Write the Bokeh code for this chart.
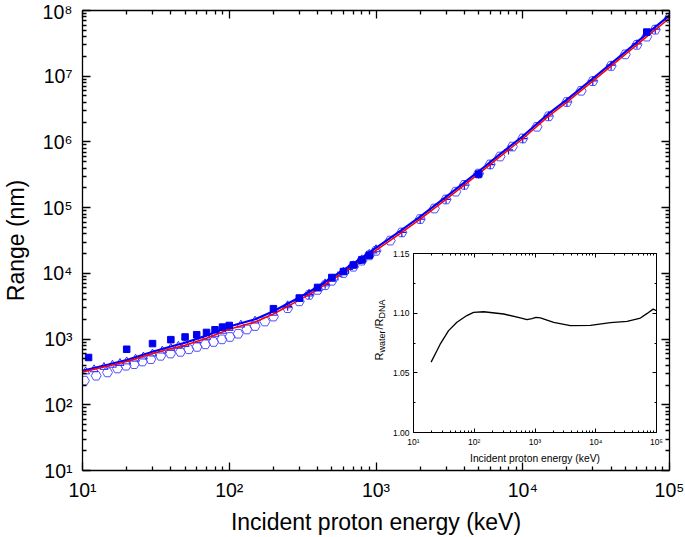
from bokeh.plotting import figure
from bokeh.models import Range1d, LogAxis, LinearAxis, FixedTicker
from bokeh.embed import file_html
from bokeh.resources import INLINE
from bokeh.core.properties import value
import math

# ---------------- data ----------------
# calculated ranges (nm) vs incident proton energy (keV)
E_line = [10, 15, 20, 30, 40, 50, 70, 100, 150, 200, 300, 400, 500, 700, 1000, 1500,
          2000, 3000, 5000, 7000, 10000, 15000, 20000, 30000, 50000, 70000, 100000]
R_water = [330, 410, 480, 640, 770, 880, 1130, 1550, 2000, 2650, 4300, 6200, 8700, 14000,
           24500, 46000, 73000, 146000, 355000, 650000, 1.22e6, 2.7e6, 4.4e6, 9.2e6,
           2.35e7, 4.4e7, 8.4e7]
R_dna = [315, 388, 455, 605, 715, 805, 1030, 1410, 1818, 2410, 3915, 5650, 7940, 12790,
         22350, 42100, 66900, 133900, 325700, 596000, 1.119e6, 2.475e6, 4.03e6, 8.42e6,
         2.15e7, 4.0e7, 7.63e7]

# experimental / reference points
E_sq = [11, 20, 30, 40, 50, 60, 70, 80, 90, 100, 200, 300, 400, 500, 600, 700, 800, 900, 5000, 70000]
R_sq = [524, 700, 853, 980, 1076, 1165, 1262, 1386, 1521, 1610, 2900, 4210, 6110, 8650,
        10650, 13400, 16000, 18900, 324000, 4.69e7]

E_pent = [10.3, 12.4, 14.8, 17.3, 19.8, 22.5, 25.6, 29.2, 34.1, 39.8, 46.5, 53, 60.3, 68.7,
          78.2, 89.1, 101, 115, 132, 150, 175, 200, 250, 300, 350, 400, 450, 500, 600, 700,
          800, 900, 1000, 1250, 1500, 2000, 2500, 3000, 3500, 4000, 5000, 6000, 7000, 8500,
          10000, 12500, 15000, 20000, 25000, 30000, 40000, 50000, 60000, 70000, 80000, 100000]
R_pent = [233, 277, 311, 357, 393, 415, 456, 494, 556, 603, 638, 700, 760, 832, 904, 990,
          1077, 1206, 1400, 1577, 1850, 2200, 2950, 3750, 4700, 5600, 6600, 7700, 10100,
          12600, 15600, 18800, 22000, 31500, 42000, 67000, 97000, 133000, 175000, 222000,
          330000, 455000, 600000, 850000, 1.13e6, 1.7e6, 2.45e6, 4.05e6, 6.0e6, 8.4e6,
          1.43e7, 2.15e7, 3.0e7, 4.0e7, 5.1e7, 7.7e7]

E_tri = [10.5, 12, 14, 16, 18, 20, 23, 26, 30, 35, 40, 45, 50, 60, 70, 80, 90, 100, 120, 150,
         200, 250, 300, 350, 400, 450, 500, 600, 700, 800, 900, 1000]
R_tri = [320, 345, 375, 405, 430, 455, 500, 540, 600, 665, 730, 785, 835, 950, 1075, 1195,
         1330, 1470, 1650, 1900, 2500, 3250, 4050, 4900, 5850, 7000, 8200, 10600, 13200,
         16300, 19700, 23200]

E_cross = [250, 350, 450, 550, 650, 750, 850, 950, 1500, 2000, 3000, 4000, 5000, 6000, 8000,
           10000, 15000, 20000, 30000, 40000, 60000, 80000, 100000]
R_cross = [3150, 4750, 6800, 9100, 11500, 14200, 17500, 20500, 42000, 67000, 134000, 220000,
           326000, 450000, 755000, 1.12e6, 2.48e6, 4.05e6, 8.5e6, 1.47e7, 3.1e7, 5.2e7, 7.8e7]

# inset: R_water / R_DNA
E_ratio = [19.5, 27.5, 37.8, 51.8, 75.6, 97.5, 142.6, 305, 573, 738, 891, 1038, 1224, 2030,
           3822, 8170, 17460, 32800, 54400, 70200, 88100, 100000]
ratio = [1.059, 1.074, 1.0854, 1.0924, 1.098, 1.1007, 1.1012, 1.0993, 1.096, 1.0945, 1.0955,
         1.0965, 1.096, 1.0923, 1.0895, 1.0898, 1.092, 1.0931, 1.0959, 1.0998, 1.1034, 1.102]

x_major = [10, 100, 1000, 10000, 100000]
y_major = [10, 100, 1e3, 1e4, 1e5, 1e6, 1e7, 1e8]
exp_x = [1, 2, 3, 4, 5]
exp_y = [1, 2, 3, 4, 5, 6, 7, 8]
inset_y_major = [1.00, 1.05, 1.10, 1.15]
inset_y_minor = [1.025, 1.075, 1.125]
inset_y_labels = ["1.00", "1.05", "1.10", "1.15"]
inset_ytitle_main = ["R", "/R"]
inset_ytitle_sub = ["water", "DNA"]

FONT = "Liberation Sans"
SUP = str.maketrans("0123456789", "⁰¹²³⁴⁵⁶⁷⁸⁹")


def pow_label(k):
    return "10" + str(k).translate(SUP)


def minor_of(majors):
    return [m * t for t in majors[:-1] for m in range(2, 10)]


def style(ax, font_size, tick_in, minor_in, lw, standoff, labels=True, majors=None):
    ax.axis_line_width = lw
    ax.major_tick_line_width = lw
    ax.minor_tick_line_width = lw
    ax.major_tick_in = tick_in
    ax.major_tick_out = 0
    ax.minor_tick_in = minor_in
    ax.minor_tick_out = 0
    ax.major_label_text_font = FONT
    ax.major_label_standoff = standoff
    ax.major_label_text_color = "black"
    if labels:
        ax.major_label_text_font_size = font_size
    else:
        ax.major_label_text_font_size = "1px"
        ax.major_label_text_alpha = 0
        ax.major_label_standoff = 0
        ax.major_label_overrides = {float(v): " " for v in majors}


# ---------------- main figure ----------------
p = figure(width=685, height=537, x_axis_type="log", y_axis_type="log",
           x_range=Range1d(10, 1e5), y_range=Range1d(10, 1e8),
           output_backend="svg", toolbar_location=None,
           min_border_left=78, min_border_right=16, min_border_top=10, min_border_bottom=63)
p.grid.visible = False
p.outline_line_color = None
p.background_fill_color = "white"

xt = FixedTicker(ticks=x_major, minor_ticks=minor_of(x_major))
yt = FixedTicker(ticks=y_major, minor_ticks=minor_of(y_major))

p.xaxis.ticker = xt
p.yaxis.ticker = yt
p.xaxis.major_label_overrides = {float(v): pow_label(k) for v, k in zip(x_major, exp_x)}
p.yaxis.major_label_overrides = {float(v): pow_label(k) for v, k in zip(y_major, exp_y)}
style(p.xaxis[0], "19.5px", 8, 4, 1.3, 8)
style(p.yaxis[0], "19.5px", 8, 4, 1.3, 10)

p.xaxis.axis_label = "Incident proton energy (keV)"
p.yaxis.axis_label = "Range (nm)"
for ax in (p.xaxis[0], p.yaxis[0]):
    ax.axis_label_text_font = FONT
    ax.axis_label_text_font_size = "23px"
    ax.axis_label_text_font_style = "normal"
    ax.axis_label_text_color = "black"
p.xaxis.axis_label_standoff = 5
p.yaxis.axis_label_standoff = 10

top_ax = LogAxis(ticker=xt)
style(top_ax, "1px", 8, 4, 1.3, 0, labels=False, majors=x_major)
p.add_layout(top_ax, "above")
right_ax = LogAxis(ticker=yt)
style(right_ax, "1px", 8, 4, 1.3, 0, labels=False, majors=y_major)
p.add_layout(right_ax, "right")

p.scatter(E_pent, R_pent, marker="hex", size=10, fill_color=None,
          line_color="#5050ff", line_width=1)
p.scatter(E_tri, R_tri, marker="triangle", size=8, fill_color=None,
          line_color="#2a2aff", line_width=1)
p.scatter(E_cross, R_cross, marker="cross", size=9, line_color="#1515f0", line_width=1.2)
p.line(E_line, R_water, line_color="#0000ff", line_width=2.2)
p.line(E_line, R_dna, line_color="#ff0000", line_width=1.5)
p.scatter(E_sq, R_sq, marker="square", size=6.5, fill_color="#0000ee", line_color="#0000ee")

# ---------------- inset ----------------
q = figure(width=298, height=220, x_axis_type="log",
           x_range=Range1d(10, 1e5), y_range=Range1d(1.0, 1.15),
           output_backend="svg", toolbar_location=None,
           min_border_left=45, min_border_right=10, min_border_top=7, min_border_bottom=34,
           styles={"position": "absolute", "left": "368px", "top": "246px"})
q.grid.visible = False
q.outline_line_color = None
q.border_fill_color = None
q.border_fill_alpha = 0
q.background_fill_color = "white"

qxt = FixedTicker(ticks=x_major, minor_ticks=minor_of(x_major))
qyt = FixedTicker(ticks=inset_y_major, minor_ticks=inset_y_minor)
q.xaxis.ticker = qxt
q.yaxis.ticker = qyt
q.xaxis.major_label_overrides = {float(v): pow_label(k) for v, k in zip(x_major, exp_x)}
q.yaxis.major_label_overrides = {float(v): s for v, s in zip(inset_y_major, inset_y_labels)}
style(q.xaxis[0], "8.5px", 4, 2, 1, 4)
style(q.yaxis[0], "8.5px", 4, 2, 1, 4)
q.xaxis.axis_label = "Incident proton energy (keV)"
q.xaxis.axis_label_text_font = FONT
q.xaxis.axis_label_text_font_size = "10.3px"
q.xaxis.axis_label_text_font_style = "normal"
q.xaxis.axis_label_text_color = "black"
q.xaxis.axis_label_standoff = 3

qtop = LogAxis(ticker=qxt)
style(qtop, "1px", 4, 2, 1, 0, labels=False, majors=x_major)
q.add_layout(qtop, "above")
qright = LinearAxis(ticker=qyt)
style(qright, "1px", 4, 2, 1, 0, labels=False, majors=inset_y_major)
q.add_layout(qright, "right")

q.line(E_ratio, ratio, line_color="black", line_width=1.3)

# ---------------- inset y-axis title (R_water / R_DNA with subscripts) ----------------
t = figure(width=24, height=84, x_range=Range1d(0, 24), y_range=Range1d(0, 84),
           output_backend="svg", toolbar_location=None, min_border=0,
           styles={"position": "absolute", "left": "368px", "top": "286px"})
t.axis.visible = False
t.grid.visible = False
t.outline_line_color = None
t.background_fill_alpha = 0
t.border_fill_alpha = 0
t.background_fill_color = None
t.border_fill_color = None
t.text(x=[10.5, 10.5], y=[10, 40.9], text=inset_ytitle_main, angle=math.pi / 2,
       text_font=value(FONT), text_font_size="11px", text_align="left",
       text_baseline="middle", text_color="black")
t.text(x=[13.5, 13.5], y=[17.9, 51.9], text=inset_ytitle_sub, angle=math.pi / 2,
       text_font=value(FONT), text_font_size="9px", text_align="left",
       text_baseline="middle", text_color="black")

open("out.html", "w").write(file_html([p, q, t], INLINE))
